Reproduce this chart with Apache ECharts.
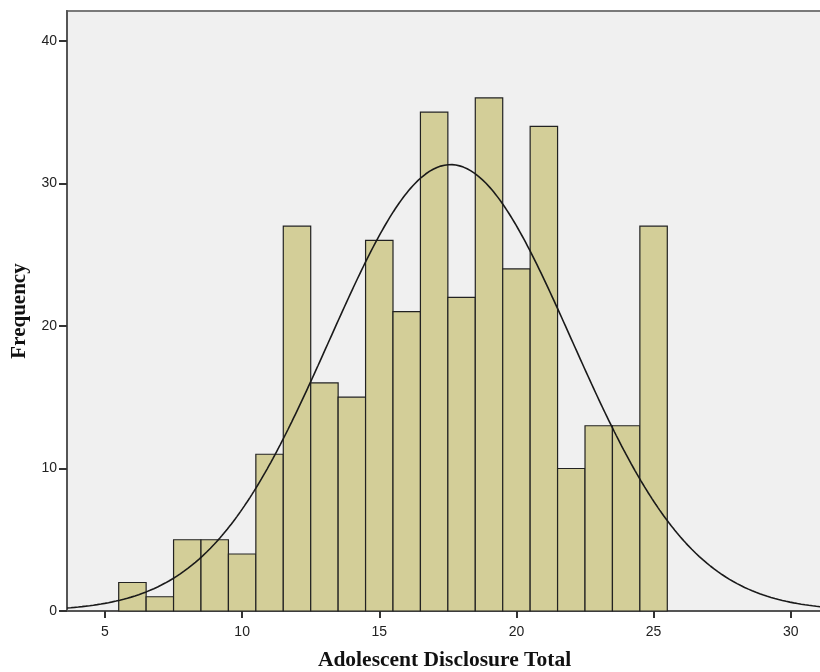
<!DOCTYPE html>
<html>
<head>
<meta charset="utf-8">
<script src="https://cdn.jsdelivr.net/npm/echarts@6/dist/echarts.min.js"></script>
<style>html,body{margin:0;padding:0;background:#fff}#c{width:820px;height:672px}</style>
</head>
<body>
<div id="c"></div>
<script>
// Bin centers (bin width 1) and frequencies
const binCenters = [6,7,8,9,10,11,12,13,14,15,16,17,18,19,20,21,22,23,24,25];
const frequencies = [2,1,5,5,4,11,27,16,15,26,21,35,22,36,24,34,10,13,13,27];
const xTicks = [5,10,15,20,25,30];
const yTicks = [0,10,20,30,40];
// Fitted normal curve parameters
const curveMean = 17.60;
const curveSD = 4.42;
const binWidth = 1;

const N = frequencies.reduce((a,b)=>a+b,0);
const xMin = 3.615, xMax = 31.14;

const histData = binCenters.map((c,i)=>[c - binWidth/2, c + binWidth/2, frequencies[i]]);
const curve = [];
for (let k = 0; k <= 400; k++) {
  const x = xMin + (xMax - xMin) * k / 400;
  const z = (x - curveMean) / curveSD;
  curve.push([x, N * binWidth * Math.exp(-0.5*z*z) / (curveSD * Math.sqrt(2*Math.PI))]);
}

const chart = echarts.init(document.getElementById('c'));
chart.setOption({
  animation: false,
  grid: {left: 67, top: 11, right: -2, bottom: 61, containLabel: false, outerBoundsMode: 'none',
         show: true, backgroundColor: '#f0f0f0', borderColor: '#7a7a7a', borderWidth: 2},
  xAxis: {
    type: 'value', min: xMin, max: xMax,
    name: 'Adolescent Disclosure Total', nameLocation: 'middle', nameGap: 49,
    nameTextStyle: {fontFamily: 'Liberation Serif', fontWeight: 'bold', fontSize: 21.5, color: '#111', verticalAlign: 'middle', lineHeight: 22},
    axisLine: {show: true, lineStyle: {color: '#555', width: 2}},
    axisTick: {show: true, length: 7, lineStyle: {color: '#333', width: 2}, customValues: xTicks},
    axisLabel: {color: '#222', fontFamily: 'Liberation Sans', fontSize: 14, margin: 14, customValues: xTicks},
    splitLine: {show: false}
  },
  yAxis: {
    type: 'value', min: 0, max: 42.1,
    name: 'Frequency', nameLocation: 'middle', nameGap: 39, nameRotate: 90,
    nameTextStyle: {fontFamily: 'Liberation Serif', fontWeight: 'bold', fontSize: 21, color: '#111', verticalAlign: 'middle', lineHeight: 22},
    axisLine: {show: true, lineStyle: {color: '#555', width: 2}},
    axisTick: {show: true, length: 8, lineStyle: {color: '#333', width: 2}, customValues: yTicks},
    axisLabel: {color: '#222', fontFamily: 'Liberation Sans', fontSize: 14, margin: 10, customValues: yTicks},
    splitLine: {show: false}
  },
  series: [
    {
      type: 'custom',
      data: histData,
      encode: {x: [0,1], y: 2},
      renderItem: function (params, api) {
        const p0 = api.coord([api.value(0), api.value(2)]);
        const p1 = api.coord([api.value(1), 0]);
        return {
          type: 'rect',
          shape: {x: p0[0], y: p0[1], width: p1[0]-p0[0], height: p1[1]-p0[1]},
          style: {fill: '#d3ce98', stroke: '#222', lineWidth: 1.2}
        };
      },
      z: 2
    },
    {
      type: 'line', data: curve, showSymbol: false, smooth: false,
      lineStyle: {color: '#1a1a1a', width: 1.6}, z: 3, silent: true
    }
  ]
});
</script>
</body>
</html>
